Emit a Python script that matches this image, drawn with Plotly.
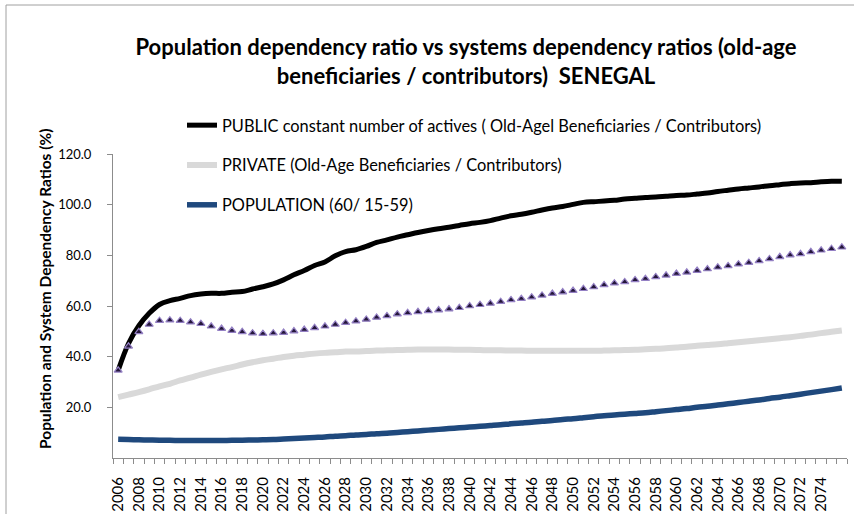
import plotly.graph_objects as go

years = list(range(2006, 2077))
tick_years = list(range(2006, 2075, 2))

public_const = [34.6, 45.2, 52.2, 57.1, 60.6, 62.1, 63.0, 64.1, 64.7, 65.0, 65.0, 65.4, 65.7, 66.7, 67.6, 68.7, 70.3, 72.3, 74.0, 76.0, 77.4, 79.8, 81.5,
                82.2, 83.5, 85.1, 86.1, 87.2, 88.1, 89.0, 89.8, 90.5, 91.1, 91.8, 92.5, 93.0, 93.7, 94.7, 95.6, 96.2, 97.0, 97.9, 98.7, 99.3, 100.1, 100.9, 101.2,
                101.4, 101.7, 102.2, 102.5, 102.8, 103.0, 103.3, 103.6, 103.8, 104.2, 104.6, 105.2, 105.7, 106.2, 106.6, 107.0, 107.5, 107.9, 108.3, 108.6, 108.7, 109.0, 109.2, 109.2]

private = [24.0, 25.0, 26.0, 27.1, 28.3, 29.3, 30.6, 31.7, 32.9, 34.0, 35.0, 35.9, 36.9, 37.8, 38.6, 39.2, 39.9, 40.4, 40.8, 41.2, 41.5, 41.7, 42.0,
           42.0, 42.2, 42.4, 42.5, 42.6, 42.7, 42.8, 42.8, 42.8, 42.8, 42.7, 42.7, 42.6, 42.5, 42.5, 42.4, 42.4, 42.3, 42.3, 42.3, 42.3, 42.3, 42.3, 42.3,
           42.4, 42.5, 42.6, 42.7, 42.9, 43.1, 43.3, 43.6, 43.9, 44.3, 44.6, 44.9, 45.3, 45.7, 46.1, 46.5, 46.9, 47.3, 47.7, 48.2, 48.7, 49.3, 49.8, 50.3]

population = [7.4, 7.3, 7.2, 7.1, 7.0, 7.0, 6.9, 6.9, 6.9, 6.9, 6.9, 7.0, 7.0, 7.1, 7.2, 7.3, 7.5, 7.7, 7.9, 8.1, 8.3, 8.6, 8.8,
              9.1, 9.3, 9.6, 9.8, 10.1, 10.4, 10.7, 11.0, 11.3, 11.6, 11.9, 12.2, 12.5, 12.8, 13.1, 13.5, 13.8, 14.1, 14.5, 14.8, 15.2, 15.5, 15.9, 16.3,
              16.7, 17.0, 17.3, 17.6, 17.9, 18.3, 18.7, 19.1, 19.5, 20.0, 20.4, 20.9, 21.4, 21.9, 22.4, 22.9, 23.5, 24.0, 24.6, 25.2, 25.8, 26.4, 27.0, 27.6]

public_markers = [34.6, 44.1, 49.8, 52.7, 54.2, 54.4, 54.2, 53.6, 53.0, 52.0, 51.1, 50.3, 49.8, 49.3, 49.1, 49.3, 49.5, 50.1, 50.7, 51.4, 52.0, 52.7, 53.4,
                  54.0, 54.7, 55.5, 56.1, 56.8, 57.3, 57.7, 58.1, 58.4, 58.8, 59.3, 60.0, 60.5, 61.0, 61.7, 62.4, 62.9, 63.5, 64.2, 64.9, 65.5, 66.1, 66.8, 67.5,
                  68.3, 69.0, 69.5, 70.3, 70.8, 71.5, 72.1, 72.8, 73.3, 74.0, 74.6, 75.3, 75.8, 76.5, 77.1, 77.8, 78.6, 79.4, 80.1, 80.6, 81.4, 82.0, 82.6, 83.2]

names = ["PUBLIC constant number of actives ( Old-Agel Beneficiaries / Contributors)",
         "PRIVATE (Old-Age Beneficiaries / Contributors)",
         "POPULATION (60/ 15-59)"]

FONT = "Lato, 'Open Sans', sans-serif"
AXIS_GREY = "#8c8c8c"

fig = go.Figure()
fig.add_trace(go.Scatter(x=years, y=public_const, name=names[0], mode="lines",
                         line=dict(color="#000000", width=5, shape="spline"), legendgroup="a"))
fig.add_trace(go.Scatter(x=years, y=private, name=names[1], mode="lines",
                         line=dict(color="#D9D9D9", width=6, shape="spline"), legendgroup="b"))
fig.add_trace(go.Scatter(x=years, y=population, name=names[2], mode="lines",
                         line=dict(color="#1F497D", width=5.5, shape="spline"), legendgroup="c"))
fig.add_trace(go.Scatter(x=years, y=public_markers, name="markers", mode="markers", showlegend=False,
                         marker=dict(symbol="triangle-up", size=7, color="#24163a",
                                     line=dict(color="#9480c4", width=1.2))))

fig.update_layout(
    width=854, height=514,
    margin=dict(l=113, r=7, t=154, b=56, autoexpand=False),
    paper_bgcolor="white", plot_bgcolor="white",
    font=dict(family=FONT, color="black"),
    title=dict(text="Population dependency ratio vs systems dependency ratios (old-age<br>beneficiaries / contributors)  SENEGAL",
               x=466/854, xanchor="center", xref="container",
               y=1 - 55/514, yanchor="middle", yref="container",
               font=dict(family=FONT, size=22, color="black", weight="bold")),
    legend=dict(x=182/854, xref="container", xanchor="left",
                y=1 - 108/514, yref="container", yanchor="top",
                font=dict(family=FONT, size=16.4, color="black"),
                tracegroupgap=15.5, bgcolor="rgba(0,0,0,0)"),
    showlegend=True,
)

fig.update_xaxes(
    range=[2005.5, 2076.5], showgrid=False, zeroline=False, automargin=False,
    showline=True, linecolor=AXIS_GREY, linewidth=1,
    tickmode="array", tickvals=tick_years, ticktext=[str(y) for y in tick_years],
    ticks="", tickangle=-90, ticklabelstandoff=12,
    tickfont=dict(family=FONT, size=15, color="black"),
    minor=dict(tickmode="array", tickvals=[y - 0.5 for y in years] + [years[-1] + 0.5],
               ticks="outside", ticklen=5, tickcolor=AXIS_GREY, tickwidth=1, showgrid=False),
)
fig.update_yaxes(
    range=[0, 120], showgrid=False, zeroline=False, automargin=False,
    showline=True, linecolor=AXIS_GREY, linewidth=1,
    tickmode="array", tickvals=[20, 40, 60, 80, 100, 120], tickformat=".1f",
    ticks="outside", ticklen=5, tickcolor=AXIS_GREY, ticklabelstandoff=13,
    tickfont=dict(family=FONT, size=13, color="black"),
)

fig.add_annotation(text="Population and System Dependency Ratios (%)", textangle=-90,
                   xref="paper", yref="paper", x=(45 - 113) / 734, y=(458 - 289) / 304,
                   xanchor="center", yanchor="middle", showarrow=False,
                   font=dict(family=FONT, size=15.5, color="black", weight="bold"))

# outer chart frame (top and left edges visible)
fig.add_shape(type="rect", xref="paper", yref="paper",
              x0=(6 - 113) / 734, x1=(870 - 113) / 734,
              y0=(458 - 530) / 304, y1=(458 - 5) / 304,
              line=dict(color="#a0a0a0", width=1), fillcolor="rgba(0,0,0,0)", layer="below")

fig.write_html("out.html", config={"displayModeBar": False},
               post_script="document.body.style.margin='0';document.body.style.padding='0';"
                           "document.body.style.overflow='hidden';")
